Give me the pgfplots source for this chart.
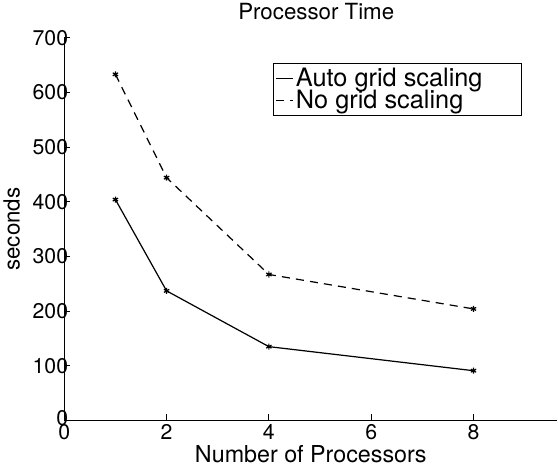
\documentclass[border=0pt]{standalone}
\usepackage{fontspec}
\setmainfont{TeX Gyre Heros}
\usepackage{pgfplots}
\pgfplotsset{compat=1.18}
\newcommand{\lgf}{\fontsize{25}{26}\selectfont}
\begin{document}
\begin{tikzpicture}
\begin{axis}[
  scale only axis,
  width=487pt, height=378pt,
  xmin=0, xmax=9.64, ymin=0, ymax=700,
  axis lines*=left,
  axis line style={line width=1.2pt},
  xtick={0,2,4,6,8}, ytick={0,100,...,700},
  yticklabels={\raisebox{5pt}{0},100,200,300,400,500,600,700},
  tick align=inside, major tick length=6pt,
  tick style={line width=1pt, black},
  /pgf/number format/assume math mode=true,
  xticklabel style={font=\fontsize{21}{24}\selectfont, inner sep=1pt, yshift=-3pt},
  yticklabel style={font=\fontsize{21}{24}\selectfont, inner sep=1pt, xshift=5pt},
  xlabel={Number of Processors},
  ylabel={seconds},
  xlabel style={font=\fontsize{23}{24}\selectfont, yshift=-1pt},
  ylabel style={font=\fontsize{22}{24}\selectfont, yshift=8pt},
  title={Processor Time},
  title style={font=\fontsize{22}{24}\selectfont, at={(0.511,1)}, yshift=8pt},
  legend style={at={(0.423,0.934)}, anchor=north west, draw=black, line width=1pt,
    inner xsep=2pt, inner ysep=3pt, row sep=-2pt},
  legend cell align=left,
  legend image post style={line width=1.2pt},
  legend image code/.code={\draw[#1] (0cm,0cm) -- (0.6cm,0cm);},
]
\addplot[black, line width=1.2pt, mark=asterisk, mark size=3pt, mark options={solid}] coordinates {
  (1,404) (2,237) (4,135) (8,91)
};
\addlegendentry{\lgf Auto grid scaling\rule{34pt}{0pt}}
\addplot[black, line width=1.2pt, dash pattern=on 8pt off 6pt, mark=asterisk, mark size=3pt, mark options={solid}] coordinates {
  (1,633) (2,444) (4,267) (8,204)
};
\addlegendentry{\lgf No grid scaling}
\end{axis}
\end{tikzpicture}
\end{document}
